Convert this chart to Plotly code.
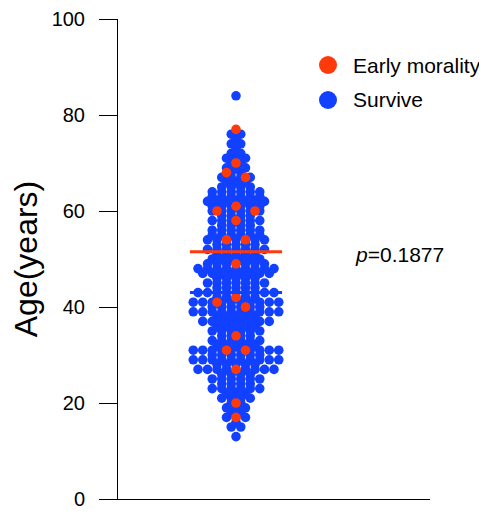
import numpy as np
import plotly.graph_objects as go

# ---------------- data ----------------
survive_ages = [13, 14, 15, 16, 17, 18, 19, 20, 21, 22, 23, 24, 25, 26, 27, 28,
                29, 30, 31, 32, 33, 34, 35, 36, 37, 38, 39, 40, 41, 42, 43, 44,
                45, 46, 47, 48, 49, 50, 51, 52, 53, 54, 55, 56, 57, 58, 59, 60,
                61, 62, 63, 64, 65, 66, 67, 68, 69, 70, 71, 72, 73, 74, 75, 76, 84]
survive_counts = [1, 0, 2, 1, 3, 2, 3, 2, 4, 3, 6, 4, 6, 4, 9, 5,
                  10, 6, 10, 5, 6, 4, 6, 5, 8, 5, 10, 6, 10, 5, 9, 5,
                  7, 5, 8, 9, 7, 6, 5, 7, 5, 7, 6, 6, 4, 6, 4, 6,
                  6, 7, 6, 6, 4, 3, 4, 2, 3, 2, 3, 2, 1, 2, 1, 2, 1]
early_ages = [77, 70, 68, 67, 61, 60, 60, 58, 54, 54, 49, 42, 41, 40, 34, 31, 31, 27, 20, 17]

legend_names = ["Early morality", "Survive"]
p_text = "<i>p</i>=0.1877"
y_ticks = [0, 20, 40, 60, 80, 100]

RED = "#ff3a0a"
BLUE = "#1240ff"

# ---------------- layout helpers (column offsets) ----------------
SX, SY = 9.5, 4.8   # px per column, px per year


def row_swarm(ages, counts):
    xs, ys = [], []
    for a, n in zip(ages, counts):
        for i in range(n):
            xs.append(i - (n - 1) / 2.0)
            ys.append(a)
    return xs, ys


def greedy_swarm(vals, d=11.0):
    placed = []
    xs, ys = [], []
    uniq = sorted(set(vals), reverse=True)
    for v in uniq:
        k = vals.count(v)
        if k == 1:
            cands = [[0]] + [[s * m] for m in range(1, 20) for s in (-1, 1)]
        else:
            cands = [[-m, m] for m in range(1, 20)]
        chosen = cands[-1]
        for c in cands:
            if all(np.hypot((cc - pc) * SX, (v - pv) * SY) >= d for cc in c for (pc, pv) in placed):
                chosen = c
                break
        for cc in chosen:
            placed.append((cc, v))
            xs.append(cc)
            ys.append(v)
    return xs, ys


bx, by = row_swarm(survive_ages, survive_counts)
rx, ry = greedy_swarm(early_ages)

survive_all = np.repeat(survive_ages, survive_counts)
med_s = float(np.median(survive_all))
med_e = float(np.median(early_ages))

fig = go.Figure()
fig.add_trace(go.Scatter(x=bx, y=by, mode="markers",
                         marker=dict(size=9.6, color=BLUE, line=dict(width=0)),
                         showlegend=False, hoverinfo="y"))
fig.add_trace(go.Scatter(x=rx, y=ry, mode="markers",
                         marker=dict(size=9.6, color=RED, line=dict(width=0)),
                         showlegend=False, hoverinfo="y"))
fig.add_trace(go.Scatter(x=[-4.85, 4.85], y=[med_e, med_e], mode="lines",
                         line=dict(color=RED, width=3), showlegend=False))
fig.add_trace(go.Scatter(x=[-4.85, 4.85], y=[med_s, med_s], mode="lines",
                         line=dict(color=BLUE, width=3), showlegend=False))

# target plot area on the page: x 118..430, y 19..499 ; page body has an 8px margin
OFF = 8
L, R, T, B = 118, 430, 19, 499
W, H = R - L, B - T
FIG_W, FIG_H = 487 - OFF, 513 - OFF


def px(x):
    return (x - L) / W


def py(y):
    return (B - y) / H


shapes = []
annotations = []
for name, col, yy in [(legend_names[0], RED, 65), (legend_names[1], BLUE, 100)]:
    shapes.append(dict(type="circle", xref="paper", yref="paper",
                       xsizemode="pixel", ysizemode="pixel",
                       xanchor=px(328), yanchor=py(yy),
                       x0=-9, x1=9, y0=-9, y1=9,
                       fillcolor=col, line=dict(width=0)))
    annotations.append(dict(text=name, xref="paper", yref="paper",
                            x=px(351), y=py(yy), xanchor="left", yanchor="middle",
                            showarrow=False, font=dict(size=21, color="black")))
annotations.append(dict(text=p_text, xref="paper", yref="paper",
                        x=px(353), y=py(254), xanchor="left", yanchor="middle",
                        showarrow=False, font=dict(size=21, color="black")))

fig.update_layout(
    width=FIG_W, height=FIG_H,
    margin=dict(l=L - OFF, r=FIG_W - (R - OFF), t=T - OFF, b=FIG_H - (B - OFF), pad=0),
    paper_bgcolor="white", plot_bgcolor="white",
    font=dict(family="Liberation Sans, Arial, sans-serif", color="black"),
    shapes=shapes, annotations=annotations,
    xaxis=dict(range=[-(236 - L) / SX, (R - 236) / SX], showgrid=False, zeroline=False,
               showticklabels=False, ticks="", showline=True, linecolor="black",
               linewidth=1, fixedrange=True, automargin=False),
    yaxis=dict(range=[0, 100], tickvals=y_ticks, showgrid=False, zeroline=False,
               showline=True, linecolor="black", linewidth=1, ticks="outside",
               ticklen=18, tickwidth=1, tickcolor="black",
               tickfont=dict(size=20), ticklabelstandoff=10,
               title=dict(text="Age(years)", font=dict(size=32), standoff=10),
               fixedrange=True, automargin=False),
)

fig.write_html("out.html")
